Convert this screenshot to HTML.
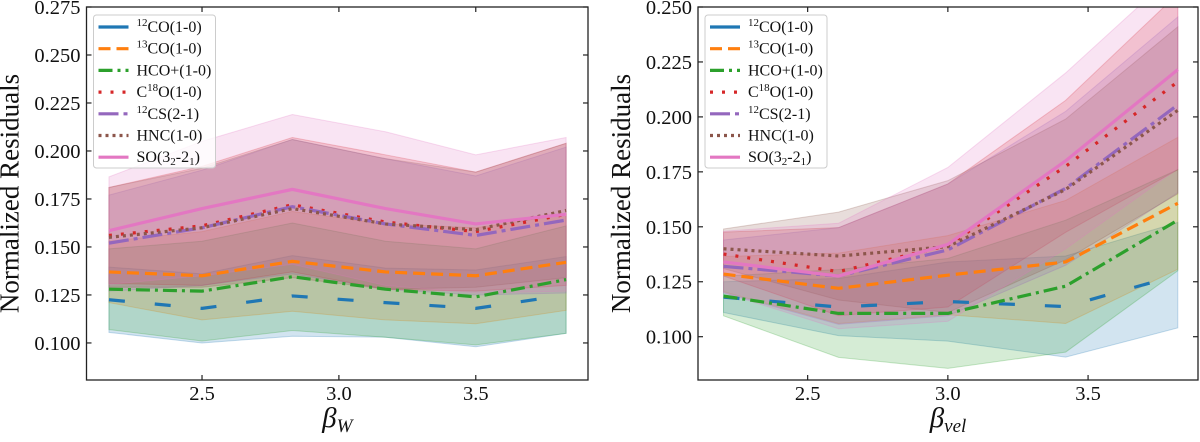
<!DOCTYPE html>
<html><head><meta charset="utf-8"><style>
body{margin:0;background:#fff;}
svg text{font-family:"Liberation Serif","DejaVu Serif",serif;fill:#111;}
</style></head><body>
<svg id="fig" width="1200" height="437" viewBox="0 0 1200 437" xmlns="http://www.w3.org/2000/svg"></svg>
<script>
// ---- data ----
const seriesNames = ["12CO","13CO","HCO+","C18O","12CS","HNC","SO"];
const seriesLabels = [["12","CO(1-0)"],["13","CO(1-0)"],["","HCO+(1-0)"],["C","18","O(1-0)"],["12","CS(2-1)"],["","HNC(1-0)"],["SO(3","2","-2","1",")"]];
const seriesColors = ["#1f77b4","#ff7f0e","#2ca02c","#d62728","#9467bd","#8c564b","#e377c2"];
const seriesDash = ["16 30","12 6","14 5 3 5","3 9","20 5 4 5","3 4","none"];

// left panel (beta_W)
const leftX = [2.16, 2.5, 2.83, 3.17, 3.5, 3.83];
const leftCO12 = [0.1225, 0.118, 0.1245, 0.121, 0.118, 0.125];
const leftCO13 = [0.137, 0.135, 0.1425, 0.137, 0.135, 0.142];
const leftHCO = [0.128, 0.127, 0.1345, 0.128, 0.124, 0.133];
const leftC18O = [0.156, 0.161, 0.172, 0.163, 0.158, 0.167];
const leftCS = [0.152, 0.160, 0.171, 0.162, 0.156, 0.164];
const leftHNC = [0.155, 0.160, 0.170, 0.162, 0.159, 0.169];
const leftSO = [0.1585, 0.170, 0.180, 0.170, 0.162, 0.167];
const leftErrCO12 = [0.017, 0.018, 0.021, 0.018, 0.020, 0.020];
const leftErrCO13 = [0.016, 0.023, 0.026, 0.025, 0.025, 0.025];
const leftErrHCO = [0.021, 0.026, 0.028, 0.025, 0.025, 0.028];
const leftErrC18O = [0.025, 0.031, 0.035, 0.035, 0.031, 0.037];
const leftErrCS = [0.025, 0.030, 0.035, 0.034, 0.031, 0.038];
const leftErrHNC = [0.026, 0.031, 0.036, 0.034, 0.030, 0.035];
const leftErrSO = [0.028, 0.035, 0.039, 0.040, 0.036, 0.040];
const leftYTicks = [0.100, 0.125, 0.150, 0.175, 0.200, 0.225, 0.250, 0.275];
const leftXTicks = [2.5, 3.0, 3.5];

// right panel (beta_vel)
const rightX = [2.2, 2.61, 3.0, 3.42, 3.82];
const rightCO12 = [0.118, 0.1135, 0.116, 0.1137, 0.128];
const rightCO13 = [0.1285, 0.122, 0.128, 0.134, 0.1607];
const rightHCO = [0.1185, 0.1106, 0.1106, 0.123, 0.153];
const rightC18O = [0.1376, 0.1296, 0.1415, 0.1775, 0.216];
const rightCS = [0.132, 0.1276, 0.1395, 0.1675, 0.2055];
const rightHNC = [0.140, 0.1367, 0.141, 0.167, 0.203];
const rightSO = [0.134, 0.1276, 0.142, 0.180, 0.2215];
const rightErrCO12 = [0.007, 0.013, 0.018, 0.023, 0.024];
const rightErrCO13 = [0.008, 0.016, 0.018, 0.028, 0.030];
const rightErrHCO = [0.009, 0.020, 0.025, 0.030, 0.023];
const rightErrC18O = [0.010, 0.020, 0.028, 0.030, 0.040];
const rightErrCS = [0.012, 0.022, 0.030, 0.035, 0.040];
const rightErrHNC = [0.009, 0.020, 0.030, 0.032, 0.038];
const rightErrSO = [0.014, 0.024, 0.035, 0.040, 0.045];
const rightYTicks = [0.100, 0.125, 0.150, 0.175, 0.200, 0.225, 0.250];
const rightXTicks = [2.5, 3.0, 3.5];

const NS = "http://www.w3.org/2000/svg";
const svg = document.getElementById("fig");
function mk(tag, attrs, parent){const e=document.createElementNS(NS,tag);for(const k in attrs)e.setAttribute(k,attrs[k]);(parent||svg).appendChild(e);return e;}

function panel(cfg){
  const g = mk("g",{});
  
  
  const L=cfg.left,R=cfg.right,T=cfg.top,B=cfg.bottom;
  const sx=v=>L+(v-cfg.xmin)/(cfg.xmax-cfg.xmin)*(R-L);
  const sy=v=>B-(v-cfg.ymin)/(cfg.ymax-cfg.ymin)*(B-T);
  const clipId = cfg.name+"-clip";
  const defs = mk("defs",{},g);
  const cp = mk("clipPath",{id:clipId},defs);
  mk("rect",{x:L,y:T,width:R-L,height:B-T},cp);
  const plot = mk("g",{"clip-path":"url(#"+clipId+")"},g);
  cfg.series.forEach((s,i)=>{
    let up=cfg.x.map((x,j)=>sx(x)+","+sy(s[j]+cfg.errs[i][j]));
    let lo=cfg.x.map((x,j)=>sx(x)+","+sy(s[j]-cfg.errs[i][j])).reverse();
    const p=mk("polygon",{points:up.concat(lo).join(" "),fill:seriesColors[i],"fill-opacity":0.2,stroke:seriesColors[i],"stroke-opacity":0.25,"stroke-width":1},plot);
    
    
  });
  cfg.series.forEach((s,i)=>{
    const pts=cfg.x.map((x,j)=>sx(x)+","+sy(s[j])).join(" ");
    const a={points:pts,fill:"none",stroke:seriesColors[i],"stroke-width":3.2,"stroke-linejoin":"round"};
    if(seriesDash[i]!=="none")a["stroke-dasharray"]=seriesDash[i];
    const p=mk("polyline",a,plot);
    
    
  });
  const fr=mk("rect",{x:L,y:T,width:R-L,height:B-T,fill:"none",stroke:"#222","stroke-width":1.3},g);
  
  
  cfg.yTicks.forEach(v=>{
    const y=sy(v);
    mk("line",{x1:L,x2:L+5,y1:y,y2:y,stroke:"#222","stroke-width":1.2},g);
    mk("line",{x1:R,x2:R-5,y1:y,y2:y,stroke:"#222","stroke-width":1.2},g);
    const t=mk("text",{x:L-6,y:y+7,"text-anchor":"end","font-size":20.5},g);
    t.textContent=v.toFixed(3);
    
    
  });
  cfg.xTicks.forEach(v=>{
    const x=sx(v);
    mk("line",{x1:x,x2:x,y1:B,y2:B-5,stroke:"#222","stroke-width":1.2},g);
    mk("line",{x1:x,x2:x,y1:T,y2:T+5,stroke:"#222","stroke-width":1.2},g);
    const t=mk("text",{x:x,y:B+20,"text-anchor":"middle","font-size":20.5},g);
    t.textContent=v.toFixed(1);
    
    
  });
  const yl=mk("text",{x:0,y:0,transform:"translate("+(L-68)+","+((T+B)/2)+") rotate(-90)","text-anchor":"middle","font-size":27},g);
  yl.textContent="Normalized Residuals";
  
  
  const xl=mk("text",{x:(L+R)/2,y:427,"text-anchor":"middle","font-size":29,"font-style":"italic"},g);
  
  
  xl.textContent="β";
  const sub=mk("tspan",{"font-size":19,dy:5},xl); sub.textContent=cfg.xsub;
  const lg=mk("g",{},g);
  
  
  const lx=L+7;
  mk("rect",{x:lx,y:T+8,width:122,height:153,rx:3,fill:"#fff","fill-opacity":0.8,stroke:"#ccc","stroke-width":1},lg);
  seriesNames.forEach((n,i)=>{
    const y=T+20+i*21.7;
    const e=mk("g",{},lg);
    
    
    const a={x1:lx+5,x2:lx+35,y1:y,y2:y,stroke:seriesColors[i],"stroke-width":3.2};
    if(seriesDash[i]!=="none")a["stroke-dasharray"]=seriesDash[i]==="16 30"?"30 10":seriesDash[i];
    mk("line",a,e);
    const t=mk("text",{x:lx+43,y:y+5,"font-size":16},e);
    const lab=seriesLabels[i];
    if(n==="SO"){
      t.appendChild(document.createTextNode("SO(3"));
      let s=mk("tspan",{"font-size":11,dy:3},t);s.textContent="2";
      let s2=mk("tspan",{dy:-3},t);s2.textContent="-2";
      let s3=mk("tspan",{"font-size":11,dy:3},t);s3.textContent="1";
      let s4=mk("tspan",{dy:-3},t);s4.textContent=")";
    } else if(n==="C18O"){
      t.appendChild(document.createTextNode("C"));
      let s=mk("tspan",{"font-size":11,dy:-6},t);s.textContent="18";
      let s2=mk("tspan",{dy:6},t);s2.textContent="O(1-0)";
    } else if(lab[0]){
      let s=mk("tspan",{"font-size":11,dy:-6},t);s.textContent=lab[0];
      let s2=mk("tspan",{dy:6},t);s2.textContent=lab[1];
    } else t.textContent=lab[1];
  });
}

panel({name:"left-panel",left:86.5,right:588,top:7,bottom:380,xmin:2.078,xmax:3.91,ymin:0.0807,ymax:0.275,
  x:leftX,series:[leftCO12,leftCO13,leftHCO,leftC18O,leftCS,leftHNC,leftSO],
  errs:[leftErrCO12,leftErrCO13,leftErrHCO,leftErrC18O,leftErrCS,leftErrHNC,leftErrSO],
  yTicks:leftYTicks,xTicks:leftXTicks,xsub:"W"});
panel({name:"right-panel",left:698,right:1198,top:7,bottom:380,xmin:2.109,xmax:3.892,ymin:0.0803,ymax:0.250,
  x:rightX,series:[rightCO12,rightCO13,rightHCO,rightC18O,rightCS,rightHNC,rightSO],
  errs:[rightErrCO12,rightErrCO13,rightErrHCO,rightErrC18O,rightErrCS,rightErrHNC,rightErrSO],
  yTicks:rightYTicks,xTicks:rightXTicks,xsub:"vel"});
</script>
</body></html>
